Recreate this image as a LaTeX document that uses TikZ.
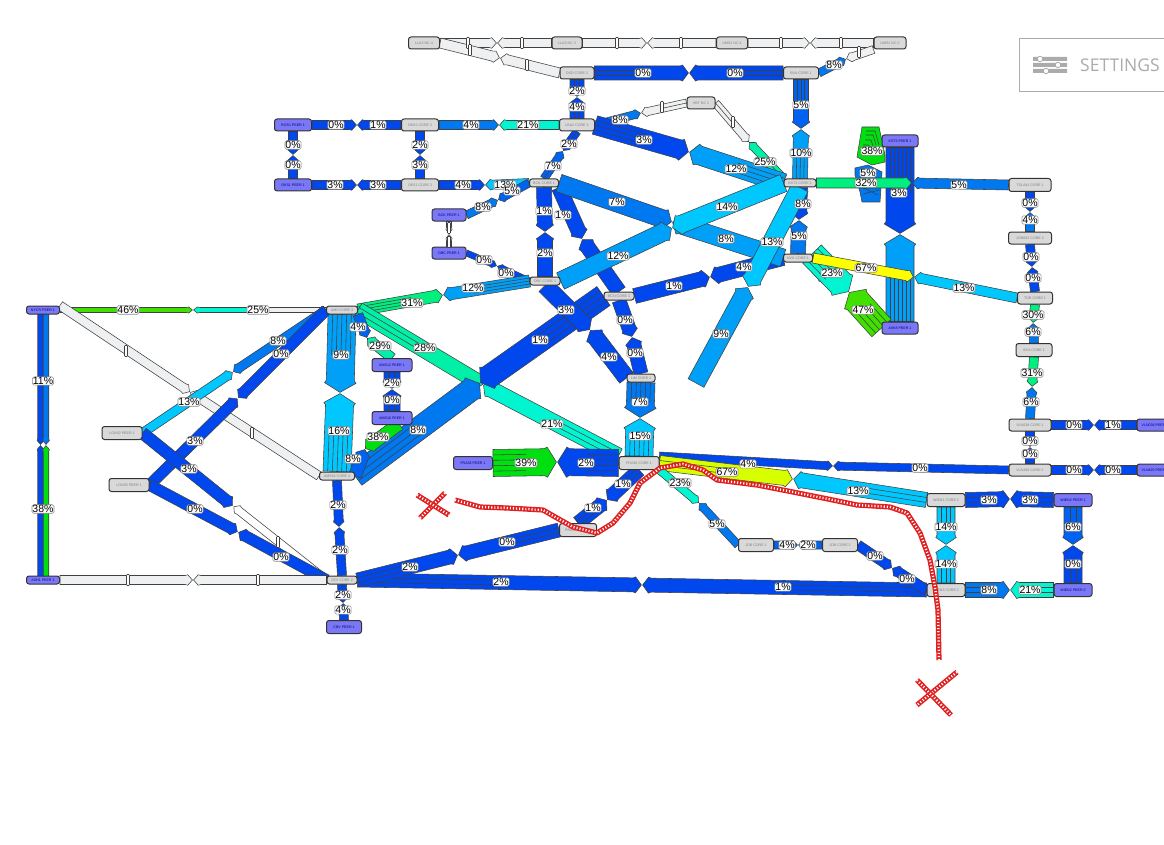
\documentclass[tikz,border=0pt]{standalone}
\usepackage{fontspec}
\setmainfont{Liberation Sans}
\newfontfamily\setfont{Open Sans}
\usetikzlibrary{calc}
\pgfdeclarelayer{nd}\pgfdeclarelayer{lb}\pgfsetlayers{main,nd,lb}
\definecolor{c0}{HTML}{0048EE}\definecolor{c4}{HTML}{0062F0}\definecolor{c8}{HTML}{0078F0}
\definecolor{c12}{HTML}{00A0F8}\definecolor{c14}{HTML}{00C8FF}\definecolor{c21}{HTML}{00F5D0}
\definecolor{c25}{HTML}{00F0A8}\definecolor{c32}{HTML}{00F080}\definecolor{c39}{HTML}{00E010}
\definecolor{c47}{HTML}{40E000}\definecolor{c67}{HTML}{FFFF00}\definecolor{cy}{HTML}{D8FF00}
\definecolor{cw}{HTML}{EEF0F2}\definecolor{corefill}{HTML}{D9D9D9}\definecolor{peerfill}{HTML}{7B78F8}
\definecolor{redx}{HTML}{E02020}\definecolor{setg}{HTML}{ABABAB}
\tikzset{
 edgeline/.style={draw=black!75,line width=.55pt,line join=miter},
 cnode/.style={draw=black!80,line width=1pt,fill=corefill,rounded corners=2.5pt,inner sep=0pt,text=black!50,font=\fontsize{3.6}{4}\selectfont},
 pnode/.style={cnode,fill=peerfill,text=black!55!blue},
 pct/.style={draw=black!45,line width=.6pt,fill=white,rounded corners=1.5pt,inner sep=.5pt,text=black,font=\fontsize{10.5}{11}\selectfont},
 tickbar/.style={draw=black!75,line width=.6pt,fill=white,rounded corners=.8pt,inner sep=0pt,minimum width=3pt,minimum height=11pt},
 redbase/.style={draw=redx,line width=5.2pt,line join=round},
 redholes/.style={draw=white,line width=2.4pt,dash pattern=on 1.1pt off 2pt},
}
\newcounter{lc}\newcounter{mc}
\newcommand\mk[6]{\begin{pgfonlayer}{nd}\node[#1,minimum width=#4pt,minimum height=#5pt] (#2) at (#3) {#6};\end{pgfonlayer}}
% one half of a link: from, to, width, colour, strands, label, label position
\newcommand\hlf[7]{%
 \path coordinate (qa) at (#1) coordinate (qb) at (#2) coordinate (ql) at (#7);%
 \pgfpointanchor{qa}{center}\pgfgetlastxy{\qax}{\qay}%
 \pgfpointanchor{qb}{center}\pgfgetlastxy{\qbx}{\qby}%
 \pgfpointanchor{ql}{center}\pgfgetlastxy{\qlx}{\qly}%
 \pgfmathsetmacro\qang{atan2(\qby-\qay,\qbx-\qax)}%
 \pgfmathsetmacro\qlen{veclen(\qbx-\qax,\qby-\qay)}%
 \pgfmathsetmacro\qpro{(\qlx-\qax)*cos(\qang)+(\qly-\qay)*sin(\qang)}%
 \pgfmathsetmacro\qhw{#3/2}%
 \pgfmathsetmacro\qfl{\qhw*1.1+.3}%
 \pgfmathsetmacro\qt{\qlen-0.25*#3-3}%
 \pgfmathsetmacro\qs{\qt-2.5}%
 \pgfmathsetmacro\qe{\qlen-.6}%
 \begin{scope}[shift={(\qax,\qay)},rotate=\qang]
  \draw[edgeline,fill=#4] (0pt,-\qhw pt) -- (\qs pt,-\qhw pt) -- (\qt pt,-\qfl pt) -- (\qe pt,0pt) -- (\qt pt,\qfl pt) -- (\qs pt,\qhw pt) -- (0pt,\qhw pt) -- cycle;
  \ifnum#5>1
   \pgfmathtruncatemacro\qnm{#5-1}%
   \foreach \qk in {1,...,\qnm}{%
    \pgfmathsetmacro\qyy{\qhw*(2*\qk/#5-1)}%
    \draw[edgeline] (0pt,\qyy pt) -- (\qpro pt,\qyy pt);}%
  \fi
 \end{scope}%
 \stepcounter{lc}%
 \def\qtxt{#6}\def\qnone{-}%
 \ifx\qtxt\qnone\else
 \begin{pgfonlayer}{lb}%
  \ifx\qtxt\empty
   \node[tickbar] (lab\arabic{lc}) at (#7) {};%
  \else
   \node[pct] (lab\arabic{lc}) at (#7) {#6\%};%
  \fi
 \end{pgfonlayer}%
 \fi
}
\newcommand\wlink[5]{\stepcounter{mc}\coordinate (mid\arabic{mc}) at (#3);\def\lA{#1}\def\lB{#2}\edef\lM{mid\arabic{mc}}\def\lW{#4}\def\lN{#5}\wlinkb}
\newcommand\wlinkb[6]{\hlf{\lA}{\lM}{\lW}{#1}{\lN}{#2}{#3}\hlf{\lB}{\lM}{\lW}{#4}{\lN}{#5}{#6}}
\begin{document}
\begin{tikzpicture}[x=1pt,y=-1pt]
\useasboundingbox (0,0) rectangle (1164,845);
% ---- nodes
\mk{cnode}{lla34}{424,43}{31}{12}{LLA3 NC 4}
\mk{cnode}{lla33}{567,43}{30}{12}{LLA3 NC 3}
\mk{cnode}{ums14}{732,43}{31}{12}{UMS1 NC 4}
\mk{cnode}{ums12}{890,43}{32}{12}{UMS1 NC 2}
\mk{cnode}{osd2}{577,73}{34}{12}{OSD CORE 2}
\mk{cnode}{bva1}{801,73}{35}{12}{BVA CORE 1}
\mk{cnode}{lba2}{577,125}{35}{12}{LBA2 CORE 3}
\mk{cnode}{vbt}{701,103}{28}{12}{VBT NC 1}
\mk{cnode}{oks2}{420,125}{37}{12}{OKS2 CORE 2}
\mk{cnode}{oks1}{420,185}{37}{12}{OKS1 CORE 2}
\mk{cnode}{bck}{544,183}{29}{8}{BCK CORE 1}
\mk{pnode}{ros}{293,125}{37}{12}{ROS1 PEER 1}
\mk{pnode}{oksp}{293,185}{37}{12}{OKS1 PEER 1}
\mk{pnode}{bckp}{449,215}{34}{12}{BCK PEER 1}
\mk{pnode}{obcp}{449,253}{34}{12}{OBC PEER 1}
\mk{cnode}{obc}{545,281}{30}{8}{OBC CORE 1}
\mk{cnode}{bcn}{619,296}{30}{8}{BCN CORE 3}
\mk{cnode}{lim}{641,378}{28}{8}{LIM CORE 1}
\mk{cnode}{kst}{800,183}{32}{8}{KST3 CORE 1}
\mk{cnode}{nvk}{798,258}{29}{8}{NVK CORE 1}
\mk{pnode}{kstp}{900,141}{36}{12}{KST3 PEER 1}
\mk{cnode}{tsl}{1030,185}{42}{13}{TSL444 CORE 1}
\mk{cnode}{jon}{1030,238}{43}{12}{JON002 CORE 2}
\mk{cnode}{tor}{1035,298}{35}{12}{TOR CORE 1}
\mk{pnode}{avk}{900,328}{36}{12}{AVK8 PEER 1}
\mk{cnode}{sks}{1034,350}{36}{13}{SKS CORE 1}
\mk{cnode}{vla}{1030,425}{42}{12}{VLN038 CORE 1}
\mk{cnode}{vlb}{1030,470}{42}{12}{VLN406 CORE 1}
\mk{pnode}{vlap}{1155,425}{36}{12}{VLN038 PEER 1}
\mk{pnode}{vlbp}{1155,470}{36}{12}{VLN420 PEER 1}
\mk{cnode}{wi1}{946,500}{38}{13}{WIEN1 CORE 2}
\mk{pnode}{wip1}{1073,500}{38}{13}{WIEN2 PEER 1}
\mk{cnode}{wi3}{946,590}{38}{13}{WIEN3 CORE 2}
\mk{pnode}{wip2}{1073,590}{38}{13}{WIEN2 PEER 2}
\mk{cnode}{job2}{840,545}{35}{13}{JOB CORE 2}
\mk{cnode}{job1}{756,545}{35}{13}{JOB CORE 1}
\mk{cnode}{pra}{578,530}{37}{13}{PRA34 CORE 2}
\mk{pnode}{frap}{473,463}{39}{13}{FRA36 PEER 1}
\mk{cnode}{fra}{639,463}{40}{13}{FRA36 CORE 1}
\mk{cnode}{ams}{342,310}{31}{8}{AMS CORE 3}
\mk{cnode}{a16}{337,476}{35}{8}{AMS16 CORE 4}
\mk{pnode}{a12p}{392,365}{40}{13}{AMS12 PEER 1}
\mk{pnode}{a16p}{392,418}{40}{13}{AMS16 PEER 1}
\mk{pnode}{nyc}{43,310}{33}{8}{NYCR PEER 1}
\mk{cnode}{lon2}{122,433}{40}{13}{LON02 PEER 1}
\mk{cnode}{lon3}{129,485}{40}{13}{LON03 PEER 1}
\mk{pnode}{ash}{43,580}{33}{8}{ASH1 PEER 1}
\mk{cnode}{cev}{342,580}{30}{8}{CEV CORE 2}
\mk{pnode}{cbv}{344,627}{35}{13}{CBV PEER 1}
% ---- top white row
\wlink{lla34.east}{lla33.west}{497,43}{9}{1}{cw}{}{468,43}{cw}{}{522,43}
\wlink{lla33.east}{ums14.west}{647,43}{9}{1}{cw}{}{617,43}{cw}{}{681,43}
\wlink{ums14.east}{ums12.west}{810,43}{9}{1}{cw}{}{781,43}{cw}{}{841,43}
\wlink{lla34.east}{osd2.west}{500,58}{10}{1}{cw}{}{470,50}{cw}{}{527,65}
\wlink{osd2.east}{bva1.west}{689,73}{14}{3}{c0}{0}{643,73}{c0}{0}{735,73}
\wlink{bva1.east}{ums12.south west}{846,59}{8}{1}{c8}{8}{834,65}{cw}{}{859,52}
\wlink{osd2.south}{lba2.north}{577,97}{14}{3}{c0}{2}{577,91}{c0}{4}{577,107}
\wlink{oks2.east}{lba2.west}{499,125}{9}{1}{c8}{4}{471,125}{c21}{21}{528,125}
\wlink{ros.east}{oks2.west}{357,125}{9}{1}{c0}{0}{336,125}{c0}{1}{378,125}
\wlink{oksp.east}{oks1.west}{357,185}{9}{1}{c0}{3}{335,185}{c0}{3}{378,185}
\wlink{ros.south}{oksp.north}{293,155}{9}{1}{c0}{0}{293,145}{c0}{0}{293,165}
\wlink{oks2.south}{oks1.north}{420,155}{9}{1}{c0}{2}{420,145}{c0}{3}{420,165}
\wlink{oks1.east}{bck.west}{485,185}{9}{1}{c0}{4}{463,185}{c14}{13}{505,185}
\wlink{bckp.east}{bck.west}{498,200}{8}{1}{c8}{8}{483,207}{c4}{5}{512,191}
\wlink{bckp.south}{obcp.north}{449,234}{5}{1}{cw}{}{449,228}{cw}{}{449,242}
\wlink{obcp.east}{obc.west}{497,266}{6}{1}{c0}{0}{484,260}{c0}{0}{506,273}
\wlink{lba2.south}{bck.north}{563,151}{8}{2}{c0}{2}{569,144}{c4}{7}{553,166}
\wlink{lba2.east}{vbt.west}{641,113}{8}{2}{c8}{8}{620,120}{cw}{}{662,107}
\wlink{vbt.east}{kst.north west}{749,142}{8}{2}{cw}{}{733,122}{c25}{25}{765,162}
\wlink{lba2.east}{kst.west}{689,152}{19}{4}{c0}{3}{644,140}{c12}{12}{736,169}
\wlink{bva1.south}{kst.north}{801,129}{15}{4}{c4}{5}{801,105}{c12}{10}{801,153}
% ---- KST / AVK group
\wlink{kstp.south}{avk.north}{900,234}{28}{7}{c0}{3}{899,193}{c12}{-}{900,277}
\draw[edgeline,fill=c8] (855,168) -- (868,165) -- (882,172) -- (880,202) -- (862,202) -- (860,192) -- (855,175) -- cycle;
\draw[edgeline] (860,178) -- (880,178) (861,187) -- (878,195) (863,194) -- (879,190);
\draw[edgeline,fill=c39] (862,127) -- (879,127) -- (885,155) -- (885,162) -- (872,165) -- (857,157) -- cycle;
\draw[edgeline] (866,131) -- (875,131) -- (879,145) (866,135) -- (873,135) -- (876,145) (865,140) -- (871,140) -- (873,146) (863,145) -- (868,145) -- (870,147);
\begin{pgfonlayer}{lb}
\node[pct] (lab38) at (872,151) {38\%};
\node[pct] (lab5k) at (868,173) {5\%};
\end{pgfonlayer}
\wlink{kst.east}{tsl.west}{912,183}{10}{1}{c32}{32}{866,183}{c8}{5}{959,185}
\wlink{kst.south}{nvk.north}{799,220}{15}{1}{c0}{8}{803,204}{c8}{5}{799,236}
\wlink{tsl.south}{jon.north}{1030,212}{9}{1}{c0}{0}{1030,203}{c8}{4}{1030,220}
\wlink{jon.south}{tor.north}{1032,267}{9}{1}{c0}{0}{1031,257}{c0}{0}{1033,278}
\wlink{tor.south}{sks.north}{1033,323}{9}{1}{c32}{30}{1033,315}{c8}{6}{1033,332}
\wlink{sks.south}{vla.north}{1032,387}{9}{1}{c32}{31}{1032,373}{c8}{6}{1031,402}
\wlink{vla.south}{vlb.north}{1030,447}{9}{1}{c0}{0}{1030,441}{c0}{0}{1030,454}
\wlink{vla.east}{vlap.west}{1094,425}{9}{1}{c0}{0}{1074,425}{c0}{1}{1113,425}
\wlink{vlb.east}{vlbp.west}{1094,470}{9}{1}{c0}{0}{1074,470}{c0}{0}{1113,470}
\coordinate (nvkse) at (812,254);
\coordinate (nvkss) at (812,266);
\coordinate (cutw) at (826,282);
\hlf{nvkss}{cutw}{8}{cw}{1}{-}{820,274}
\wlink{nvkse}{avk.west}{849,292}{26}{5}{c21}{23}{832,273}{c47}{47}{863,310}
\wlink{nvk.east}{tor.west}{914,277}{10}{1}{c67}{67}{866,268}{c14}{13}{964,288}
% ---- middle mesh
\wlink{bck.south}{obc.north}{545,232}{15}{1}{c0}{1}{544,211}{c0}{2}{545,253}
\wlink{bck.south east}{bcn.north}{582,239}{15}{1}{c0}{1}{563,215}{c0}{-}{600,270}
\wlink{bcn.south}{lim.north}{632,337}{14}{1}{c0}{0}{625,320}{c0}{0}{635,353}
\wlink{obc.west}{ams.east}{443,295}{12}{4}{c12}{12}{473,288}{c32}{31}{412,303}
\wlink{bcn.east}{nvk.west}{710,277}{15}{1}{c0}{1}{674,286}{c0}{4}{744,267}
\wlink{bck.east}{nvk.west}{672,222}{18}{1}{c8}{7}{617,202}{c12}{8}{726,239}
\wlink{obc.east}{kst.west}{672,228}{18}{1}{c12}{12}{618,256}{c14}{14}{727,207}
\coordinate (freeend) at (696,383);
\wlink{kst.south}{freeend}{748,287}{18}{1}{c14}{13}{772,242}{c12}{9}{721,334}
\wlink{ams.east}{fra.north west}{483,385}{16}{3}{c25}{28}{425,348}{c21}{21}{552,424}
\wlink{a16.east}{bcn.west}{480,383}{23}{4}{c8}{8}{418,430}{c0}{1}{540,340}
\wlink{obc.south}{lim.west}{590,330}{17}{1}{c0}{3}{566,310}{c0}{4}{609,357}
\wlink{lim.south}{fra.north}{640,418}{28}{6}{c8}{7}{640,402}{c14}{15}{640,436}
\wlink{ams.south}{a16.north}{340,393}{28}{6}{c12}{9}{341,355}{c14}{16}{339,431}
\wlink{ams.south east}{a12p.north}{367,338}{10}{1}{c4}{4}{358,327}{c25}{29}{380,346}
\wlink{a12p.south}{a16p.north}{392,389}{16}{3}{c0}{2}{392,383}{c0}{0}{392,400}
\coordinate (a16pse) at (399,424);
\wlink{a16pse}{a16.east}{365,449}{13}{1}{c39}{38}{378,437}{c4}{8}{353,459}
% ---- left
\wlink{nyc.east}{ams.west}{193,310}{5}{1}{c47}{46}{128,310}{c21}{25}{258,310}
\draw[edgeline,fill=cw] (258,307.5) rectangle (ams.west |- 0,312.5);
\coordinate (nycl) at (40.5,313);\coordinate (nycr) at (46,313);
\coordinate (ashl) at (40.5,577);\coordinate (ashr) at (46,577);
\coordinate (ml) at (40.5,445);\coordinate (mr) at (46,445);
\hlf{nycl}{ml}{5.5}{c0}{1}{-}{43,381}
\hlf{nycr}{mr}{5.5}{c8}{1}{11}{43,381}
\hlf{ashl}{ml}{5.5}{c0}{1}{-}{43,509}
\hlf{ashr}{mr}{5.5}{c39}{1}{38}{43,509}
\wlink{nyc.north east}{a16.west}{190,392}{9}{1}{cw}{}{126,351}{cw}{}{252,433}
\wlink{lon2.east}{ams.west}{233,372}{9}{1}{c14}{13}{189,402}{c8}{8}{278,341}
\wlink{lon3.east}{ams.west}{238,398}{11}{1}{c0}{3}{195,441}{c0}{0}{281,354}
\coordinate (lonmid) at (233,506);
\hlf{lon2.east}{lonmid}{12}{c0}{1}{3}{189,469}
\hlf{cev.west}{lonmid}{8}{white}{1}{}{278,542}
\wlink{lon3.east}{cev.west}{238,532}{11}{1}{c0}{0}{195,509}{c0}{0}{281,557}
\wlink{ash.east}{cev.west}{193,580}{9}{1}{cw}{}{128,580}{cw}{}{258,580}
\wlink{a16.south}{cev.north}{339,527}{9}{1}{c0}{2}{338,505}{c0}{2}{340,550}
\wlink{cev.south}{cbv.north}{343,603}{9}{2}{c0}{2}{343,595}{c0}{4}{343,610}
% ---- bottom
\wlink{cev.east}{wi3.west}{642,585}{14}{3}{c0}{2}{501,582}{c0}{1}{783,587}
\wlink{cev.east}{pra.west}{458,555}{14}{3}{c0}{2}{410,567}{c0}{0}{507,542}
\wlink{pra.north}{fra.south}{607,500}{14}{3}{c0}{1}{593,508}{c0}{1}{623,484}
\wlink{frap.east}{fra.west}{557,462}{27}{5}{c39}{39}{526,463}{c0}{2}{586,463}
\wlink{fra.north east}{vlb.west}{833,466}{8}{1}{c0}{4}{748,464}{c0}{0}{920,468}
\wlink{fra.east}{wi1.west}{793,479}{15}{3}{cy}{67}{727,472}{c14}{13}{858,491}
\wlink{fra.south east}{job1.west}{699,503}{8}{1}{c21}{23}{680,483}{c8}{5}{717,524}
\wlink{job1.east}{job2.west}{798,545}{8}{1}{c4}{4}{787,545}{c4}{2}{808,545}
\wlink{job2.east}{wi3.west}{892,568}{10}{1}{c0}{0}{875,556}{c0}{0}{907,579}
\wlink{wi1.east}{wip1.west}{1010,499}{15}{3}{c0}{3}{989,500}{c0}{3}{1030,500}
\wlink{wi3.east}{wip2.west}{1010,590}{15}{3}{c8}{8}{989,590}{c21}{21}{1030,590}
\wlink{wi1.south}{wi3.north}{946,545}{18}{4}{c14}{14}{946,527}{c14}{14}{946,564}
\wlink{wip1.south}{wip2.north}{1073,545}{18}{3}{c4}{6}{1073,527}{c0}{0}{1073,564}
% ---- red strokes and settings box, on top
\begin{pgfonlayer}{lb}
\def\redA{(455,500) -- (480,507) -- (507,508) -- (543,510) -- (557,518) -- (573,527) -- (597,533) -- (613,523) -- (630,503) -- (640,483) -- (660,468) -- (683,464) -- (703,470) -- (717,480) -- (757,485) -- (793,492) -- (823,498) -- (857,505) -- (890,507) -- (907,513) -- (920,533) -- (930,560) -- (935,587) -- (938,610) -- (939,660)}
\draw[redbase] \redA;\draw[redholes] \redA;
\def\redB{(445,493) -- (420,518)}\draw[redbase] \redB;\draw[redholes] \redB;
\def\redC{(417,495) -- (449,515)}\draw[redbase] \redC;\draw[redholes] \redC;
\def\redD{(957,672) -- (917,705)}\draw[redbase] \redD;\draw[redholes] \redD;
\def\redE{(917,680) -- (951,715)}\draw[redbase] \redE;\draw[redholes] \redE;
\draw[setg,line width=.8pt,fill=white] (1019,38) rectangle (1175,91);
\fill[setg] (1033,57) rectangle (1067,61) (1033,63) rectangle (1067,67) (1033,69) rectangle (1067,73);
\draw[setg,line width=.8pt,fill=white] (1040,59) circle (2.7) (1058,65) circle (2.7) (1046,71) circle (2.7);
\node[text=setg,inner sep=0pt,anchor=west,font=\setfont\fontsize{17.5}{18}\selectfont] (settings) at (1080,65) {SETTINGS};
\end{pgfonlayer}
\end{tikzpicture}
\end{document}
